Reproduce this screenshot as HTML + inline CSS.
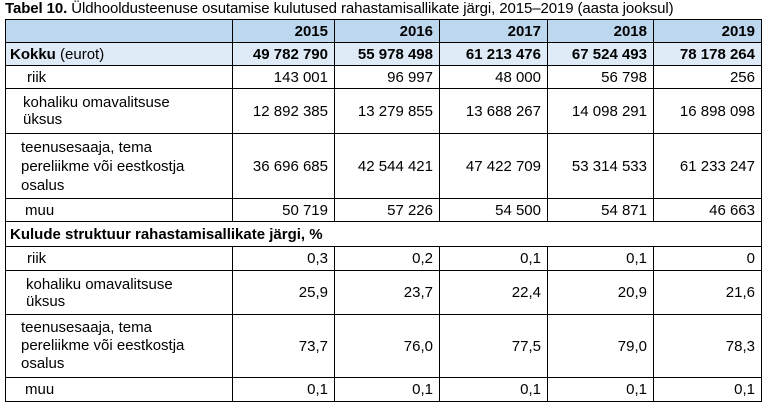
<!DOCTYPE html>
<html><head><meta charset="utf-8"><style>
body{margin:0;width:768px;height:407px;background:#fff;font-family:"Liberation Sans",Arial,sans-serif;color:#000;position:relative;overflow:hidden}
.t{position:absolute;left:5px;top:0px;font-size:15px;white-space:nowrap;line-height:18px;letter-spacing:-0.1px}
table{position:absolute;left:5px;top:19px;border-collapse:collapse;table-layout:fixed;font-size:15px}
td{border:1px solid #000;padding:0 6px;line-height:17px;overflow:hidden;white-space:nowrap}
td.n{text-align:right}
tr.h td{background:#bdd7ee;font-weight:bold}
tr.k td{background:#deebf7;font-weight:bold}
td.l{padding-left:17px;white-space:normal}
td.r{padding-left:21px}
td.b{font-weight:bold;padding-left:4px}
</style></head><body>
<div class="t"><b>Tabel 10.</b> Üldhooldusteenuse osutamise kulutused rahastamisallikate järgi, 2015–2019 (aasta jooksul)</div>
<table>
<colgroup><col style="width:227px"><col style="width:102px"><col style="width:105px"><col style="width:108px"><col style="width:106px"><col style="width:108px"></colgroup>
<tr class="h" style="height:23px"><td></td><td class="n">2015</td><td class="n">2016</td><td class="n">2017</td><td class="n">2018</td><td class="n">2019</td></tr>
<tr class="k" style="height:23px"><td class="b">Kokku <span style="font-weight:normal">(eurot)</span></td><td class="n">49 782 790</td><td class="n">55 978 498</td><td class="n">61 213 476</td><td class="n">67 524 493</td><td class="n">78 178 264</td></tr>
<tr style="height:23px"><td class="r">riik</td><td class="n">143 001</td><td class="n">96 997</td><td class="n">48 000</td><td class="n">56 798</td><td class="n">256</td></tr>
<tr style="height:45px"><td class="l">kohaliku omavalitsuse<br>üksus</td><td class="n">12 892 385</td><td class="n">13 279 855</td><td class="n">13 688 267</td><td class="n">14 098 291</td><td class="n">16 898 098</td></tr>
<tr style="height:65px"><td class="l" style="padding-left:15px;line-height:19px">teenusesaaja, tema<br>pereliikme või eestkostja<br>osalus</td><td class="n">36 696 685</td><td class="n">42 544 421</td><td class="n">47 422 709</td><td class="n">53 314 533</td><td class="n">61 233 247</td></tr>
<tr style="height:23px"><td class="l" style="padding-left:19px">muu</td><td class="n">50 719</td><td class="n">57 226</td><td class="n">54 500</td><td class="n">54 871</td><td class="n">46 663</td></tr>
<tr style="height:25px"><td colspan="6" class="b">Kulude struktuur rahastamisallikate järgi, %</td></tr>
<tr style="height:24px"><td class="r">riik</td><td class="n">0,3</td><td class="n">0,2</td><td class="n">0,1</td><td class="n">0,1</td><td class="n">0</td></tr>
<tr style="height:44px"><td class="l" style="padding-left:20px">kohaliku omavalitsuse<br>üksus</td><td class="n">25,9</td><td class="n">23,7</td><td class="n">22,4</td><td class="n">20,9</td><td class="n">21,6</td></tr>
<tr style="height:63px"><td class="l" style="padding-left:15px;line-height:18px">teenusesaaja, tema<br>pereliikme või eestkostja<br>osalus</td><td class="n">73,7</td><td class="n">76,0</td><td class="n">77,5</td><td class="n">79,0</td><td class="n">78,3</td></tr>
<tr style="height:24px"><td class="l" style="padding-left:19px">muu</td><td class="n">0,1</td><td class="n">0,1</td><td class="n">0,1</td><td class="n">0,1</td><td class="n">0,1</td></tr>
</table>
</body></html>
